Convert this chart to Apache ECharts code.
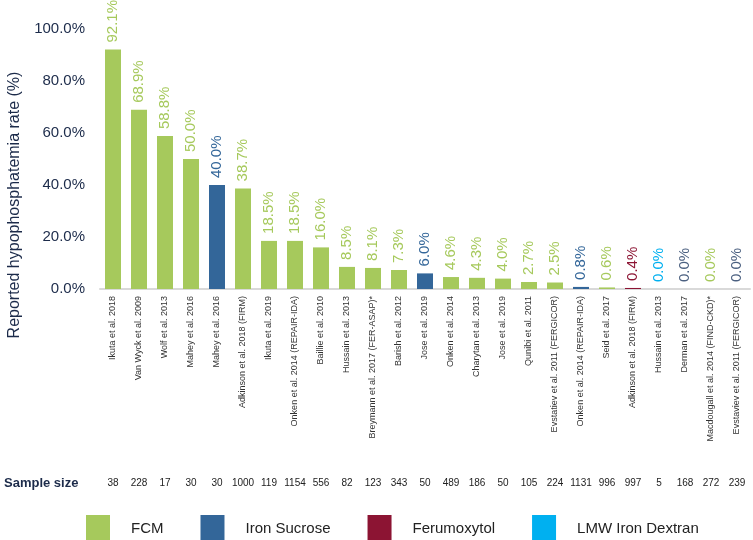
<!DOCTYPE html>
<html>
<head>
<meta charset="utf-8">
<script src="https://cdn.jsdelivr.net/npm/echarts@6/dist/echarts.min.js"></script>
<style>html,body{margin:0;padding:0;background:#fff}#c{width:753px;height:540px}</style>
</head>
<body>
<div id="c"></div>
<script>
const categories = [
  "Ikuta et al. 2018", "Van Wyck et al. 2009", "Wolf et al. 2013", "Mahey et al. 2016",
  "Mahey et al. 2016", "Adkinson et al. 2018 (FIRM)", "Ikuta et al. 2019",
  "Onken et al. 2014 (REPAIR-IDA)", "Baillie et al. 2010", "Hussain et al. 2013",
  "Breymann et al. 2017 (FER-ASAP)*", "Barish et al. 2012", "Jose et al. 2019",
  "Onken et al. 2014", "Charytan et al. 2013", "Jose et al. 2019", "Qunibi et al. 2011",
  "Evstatiev et al. 2011 (FERGICOR)", "Onken et al. 2014 (REPAIR-IDA)", "Seid et al. 2017",
  "Adkinson et al. 2018 (FIRM)", "Hussain et al. 2013", "Derman et al. 2017",
  "Macdougall et al. 2014 (FIND-CKD)*", "Evstaviev et al. 2011 (FERGICOR)"
];
const rates = [92.1, 68.9, 58.8, 50.0, 40.0, 38.7, 18.5, 18.5, 16.0, 8.5, 8.1, 7.3, 6.0,
  4.6, 4.3, 4.0, 2.7, 2.5, 0.8, 0.6, 0.4, 0.0, 0.0, 0.0, 0.0];
const drugs = ["FCM", "FCM", "FCM", "FCM", "Iron Sucrose", "FCM", "FCM", "FCM", "FCM", "FCM",
  "FCM", "FCM", "Iron Sucrose", "FCM", "FCM", "FCM", "FCM", "FCM", "Iron Sucrose", "FCM",
  "Ferumoxytol", "LMW Iron Dextran", "Other", "FCM", "Other"];
const sampleSizes = [38, 228, 17, 30, 30, 1000, 119, 1154, 556, 82, 123, 343, 50, 489, 186,
  50, 105, 224, 1131, 996, 997, 5, 168, 272, 239];
const drugTypes = ["FCM", "Iron Sucrose", "Ferumoxytol", "LMW Iron Dextran", "Other"];
const drugColors = {"FCM": "#a6c95c", "Iron Sucrose": "#336699", "Ferumoxytol": "#8c1433",
  "LMW Iron Dextran": "#00b0f0", "Other": "#4b6080"};
const FONT = 'Liberation Sans, Arial, sans-serif';

const series = drugTypes.map(d => ({
  name: d,
  type: 'bar',
  stack: 'all',
  barWidth: 16,
  itemStyle: {color: drugColors[d]},
  data: rates.map((v, i) => drugs[i] === d ? v : '-'),
  label: {
    show: true, position: 'top', rotate: 90, align: 'left', verticalAlign: 'middle',
    distance: 7, fontSize: 15, fontFamily: FONT,
    color: drugColors[d],
    formatter: p => (typeof p.value === 'number') ? p.value.toFixed(1) + '%' : ''
  }
}));

const chart = echarts.init(document.getElementById('c'));
chart.setOption({
  animation: false,
  grid: {left: 100, right: 3, top: 29, bottom: 251},
  legend: {
    data: ["FCM", "Iron Sucrose", "Ferumoxytol", "LMW Iron Dextran"],
    left: 86, top: 515, padding: 0, itemWidth: 24, itemHeight: 28, itemGap: 37,
    icon: 'rect',
    textStyle: {fontSize: 15, color: '#222', fontFamily: FONT, padding: [0, 0, 0, 16]}
  },
  graphic: [{
    type: 'text', left: 4, top: 477,
    style: {text: 'Sample size', fontSize: 13, fontWeight: 'bold', fill: '#1c2b4a', fontFamily: FONT}
  }, {
    type: 'text', x: 15, y: 205, rotation: Math.PI / 2,
    style: {text: 'Reported hypophosphatemia rate (%)', fontSize: 16, fill: '#1c2b4a',
      fontFamily: FONT, align: 'center', verticalAlign: 'middle'}
  }],
  xAxis: [{
    type: 'category', data: categories,
    axisLine: {show: true, lineStyle: {color: '#d9d9d9', width: 2}},
    axisTick: {show: false},
    axisLabel: {rotate: 90, interval: 0, fontSize: 9, color: '#333', margin: 7, fontFamily: FONT}
  }, {
    type: 'category', data: sampleSizes.map(String), position: 'bottom', offset: 189,
    axisLine: {show: false}, axisTick: {show: false},
    axisLabel: {interval: 0, fontSize: 10, color: '#222', margin: 0, fontFamily: FONT}
  }],
  yAxis: {
    type: 'value', min: 0, max: 100, interval: 20,
    axisLine: {show: false}, axisTick: {show: false}, splitLine: {show: false},
    axisLabel: {fontSize: 15, color: '#1c2b4a', margin: 15, fontFamily: FONT,
      formatter: v => v.toFixed(1) + '%'}
  },
  series: series
});
</script>
</body>
</html>
